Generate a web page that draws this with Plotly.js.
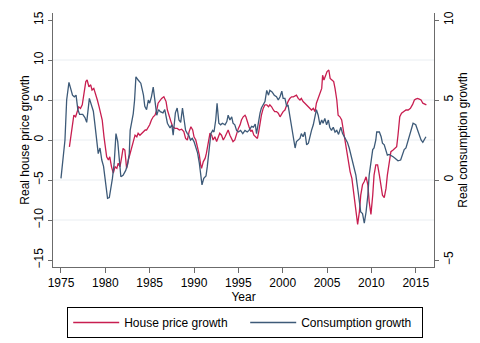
<!DOCTYPE html>
<html>
<head>
<meta charset="utf-8">
<script src="https://cdn.plot.ly/plotly-3.0.1.min.js"></script>
<style>html,body{margin:0;padding:0;background:#fff;}#chart{width:480px;height:343px;}</style>
</head>
<body>
<div id="chart"></div>
<script>
// House price growth (left axis)
var hpYears = [1975.95,1976.2,1976.45,1976.65,1976.85,1977.0,1977.2,1977.4,1977.6,1977.8,1977.95,1978.15,1978.35,1978.5,1978.7,1978.9,1979.1,1979.3,1979.5,1979.65,1979.85,1980.05,1980.15,1980.35,1980.5,1980.7,1980.9,1981.1,1981.3,1981.45,1981.65,1981.85,1982.0,1982.2,1982.4,1982.6,1982.8,1982.95,1983.15,1983.35,1983.55,1983.7,1983.9,1984.1,1984.3,1984.5,1984.65,1984.85,1985.0,1985.2,1985.4,1985.6,1985.8,1985.95,1986.15,1986.35,1986.6,1986.85,1987.0,1987.2,1987.4,1987.6,1987.85,1988.1,1988.35,1988.6,1988.85,1989.05,1989.25,1989.45,1989.65,1989.85,1990.0,1990.2,1990.4,1990.6,1990.75,1990.85,1991.05,1991.25,1991.4,1991.6,1991.8,1992.0,1992.15,1992.35,1992.55,1992.75,1992.9,1993.1,1993.3,1993.5,1993.7,1993.85,1994.05,1994.25,1994.4,1994.6,1994.8,1995.0,1995.2,1995.35,1995.55,1995.75,1995.85,1996.0,1996.2,1996.4,1996.55,1996.75,1997.0,1997.15,1997.3,1997.45,1997.6,1997.8,1998.0,1998.2,1998.4,1998.55,1998.75,1998.95,1999.1,1999.3,1999.5,1999.7,1999.9,2000.05,2000.25,2000.45,2000.6,2000.8,2001.0,2001.2,2001.4,2001.55,2001.75,2001.95,2002.1,2002.3,2002.5,2002.7,2002.9,2003.05,2003.25,2003.45,2003.65,2003.8,2004.0,2004.2,2004.4,2004.5,2004.65,2004.85,2005.0,2005.2,2005.35,2005.55,2005.75,2005.9,2006.1,2006.25,2006.45,2006.65,2006.8,2007.0,2007.2,2007.4,2007.6,2007.8,2007.95,2008.15,2008.35,2008.45,2008.65,2008.8,2009.0,2009.2,2009.4,2009.6,2009.75,2009.95,2010.15,2010.3,2010.5,2010.7,2010.9,2011.1,2011.25,2011.45,2011.65,2011.8,2012.0,2012.2,2012.45,2012.65,2012.85,2013.0,2013.2,2013.4,2013.6,2013.9,2014.15,2014.4,2014.65,2014.85,2015.0,2015.2,2015.4,2015.6,2015.8,2016.0,2016.2];
var hpGrowth = [-0.85,1.3,3.1,2.9,3.75,4.15,3.95,4.4,5.85,7.3,7.5,6.65,6.9,6.25,6.45,5.85,5.0,4.15,3.3,2.5,0.4,-1.25,-2.1,-2.5,-2.1,-3.35,-4.15,-3.35,-3.55,-2.9,-3.35,-2.1,-1.05,-1.25,-3.55,-2.5,-1.65,-1.25,-0.4,0.6,0.4,0.85,0.6,0.85,1.05,1.25,1.25,1.65,1.9,2.5,2.9,3.1,3.75,4.6,4.9,5.2,5.4,4.8,3.75,2.9,2.3,1.65,1.45,1.45,1.25,1.35,1.05,0.2,0.0,1.05,1.65,1.25,0.4,0.0,-0.85,-1.9,-3.1,-3.55,-2.7,-2.3,-1.65,-0.2,0.85,0.6,0.0,0.4,-0.2,0.4,0.85,0.6,0.0,0.4,1.05,1.25,0.6,0.2,-0.2,0.0,0.85,1.45,1.9,2.5,2.9,3.1,2.9,2.3,1.65,1.05,1.25,0.6,0.4,0.2,1.05,2.1,3.1,3.95,4.4,4.4,4.15,4.4,4.15,3.75,3.55,3.55,3.35,2.9,3.35,3.55,3.75,4.4,4.8,5.2,5.4,5.4,5.55,5.6,5.2,5.0,5.2,4.8,4.6,4.4,4.15,3.95,3.75,3.95,3.55,4.6,5.2,5.6,6.45,8.1,7.5,8.1,8.55,8.75,7.7,7.5,7.3,6.45,5.0,3.1,2.9,2.5,1.45,-0.2,-1.45,-2.7,-3.95,-4.8,-6.05,-8.1,-9.4,-10.55,-8.95,-6.9,-5.6,-5.2,-4.6,-5.6,-7.7,-9.3,-6.9,-4.4,-3.1,-3.1,-4.4,-6.05,-6.9,-7.2,-6.05,-4.4,-2.7,-1.45,-1.25,-1.05,-0.85,0.6,2.9,3.35,3.55,3.75,3.75,3.95,4.45,5.0,5.1,5.2,5.1,5.0,4.6,4.45,4.4];

// Consumption growth (right axis)
var consYears = [1975.0,1975.45,1975.64,1975.9,1976.3,1976.5,1976.7,1976.9,1977.1,1977.45,1977.7,1977.9,1978.2,1978.5,1978.65,1978.8,1979.0,1979.2,1979.4,1979.6,1979.8,1979.95,1980.15,1980.25,1980.45,1980.65,1980.8,1981.0,1981.2,1981.4,1981.55,1981.75,1982.0,1982.3,1982.5,1982.7,1982.8,1983.0,1983.15,1983.3,1983.45,1983.7,1984.0,1984.3,1984.45,1984.65,1984.85,1985.0,1985.2,1985.4,1985.6,1985.8,1986.0,1986.2,1986.5,1986.7,1987.0,1987.3,1987.5,1987.65,1987.9,1988.1,1988.3,1988.5,1988.7,1988.9,1989.05,1989.25,1989.4,1989.6,1989.8,1990.0,1990.2,1990.4,1990.6,1990.75,1990.9,1991.1,1991.35,1991.5,1991.7,1991.9,1992.1,1992.25,1992.45,1992.6,1992.8,1993.0,1993.2,1993.5,1993.7,1993.85,1994.05,1994.25,1994.4,1994.6,1994.8,1995.0,1995.25,1995.5,1995.75,1996.0,1996.2,1996.5,1996.7,1996.9,1997.05,1997.25,1997.45,1997.6,1997.8,1998.0,1998.2,1998.4,1998.55,1998.8,1999.05,1999.3,1999.5,1999.7,1999.9,2000.05,2000.25,2000.45,2000.6,2000.8,2001.0,2001.2,2001.4,2001.55,2001.75,2001.95,2002.1,2002.3,2002.5,2002.7,2002.9,2003.05,2003.25,2003.45,2003.65,2003.8,2004.0,2004.2,2004.4,2004.55,2004.75,2004.95,2005.15,2005.3,2005.5,2005.7,2005.9,2006.1,2006.3,2006.55,2006.75,2006.95,2007.1,2007.3,2007.5,2007.7,2007.9,2008.05,2008.25,2008.45,2008.65,2008.8,2009.0,2009.2,2009.4,2009.6,2009.75,2009.95,2010.15,2010.3,2010.5,2010.6,2010.9,2011.1,2011.25,2011.45,2011.65,2011.8,2012.0,2012.2,2012.45,2012.7,2013.0,2013.3,2013.5,2013.7,2013.9,2014.1,2014.25,2014.45,2014.7,2015.0,2015.2,2015.4,2015.6,2015.8,2016.0,2016.15];
var consGrowth = [0.1,2.5,5.0,6.1,5.3,5.2,5.3,4.4,4.1,4.1,3.9,3.6,5.1,4.6,4.3,3.6,2.7,1.65,2.0,1.25,0.85,0.2,-0.6,-1.15,-1.1,-0.5,0.1,1.05,2.9,2.4,1.45,0.2,0.3,0.6,0.95,1.65,3.1,3.75,4.15,5.0,6.45,6.25,6.05,5.3,4.6,4.4,5.0,4.8,5.2,5.8,5.0,4.05,4.4,4.27,4.2,4.4,3.55,3.25,3.45,2.8,4.2,4.5,3.75,3.6,4.5,3.45,3.1,2.9,2.8,2.5,2.6,2.4,2.1,1.7,1.05,0.2,-0.3,0.1,0.25,0.85,1.9,2.9,3.1,3.0,3.75,4.8,3.55,3.45,3.55,3.45,3.65,4.05,3.75,3.95,3.55,3.45,3.1,3.0,3.1,2.9,3.1,3.0,3.1,3.35,3.3,3.5,2.9,3.6,4.2,4.5,4.7,4.9,5.6,5.3,5.6,5.5,5.3,5.2,5.0,5.2,5.55,5.1,5.1,4.6,4.7,4.05,3.45,2.8,2.0,2.4,2.5,2.6,2.9,2.7,3.0,2.2,2.3,2.7,3.1,3.45,3.95,4.4,4.05,3.45,3.75,3.55,3.85,3.45,3.75,3.3,3.1,3.3,3.0,3.1,2.85,3.3,2.9,2.7,2.5,2.35,2.0,1.55,1.15,0.75,0.3,-0.5,-1.35,-2.0,-2.1,-2.7,-2.0,-0.95,0.3,1.15,1.9,2.0,2.5,3.0,3.0,2.7,2.3,2.2,1.75,1.55,1.6,1.55,1.45,1.35,1.2,1.25,1.55,1.9,2.0,2.4,2.8,3.2,3.55,3.45,3.1,2.8,2.5,2.35,2.6,2.7];

var xTicks = [1975,1980,1985,1990,1995,2000,2005,2010,2015];
var leftTicks = [-15,-10,-5,0,5,10,15];
var rightTicks = [-5,0,5,10];
var gridVals = [-10,-5,0,5,10];

var FONT = "Liberation Sans, Arial, Helvetica, sans-serif";
var AXC = "#6b6b6b";

var traces = [
  {x: hpYears, y: hpGrowth, type: "scatter", mode: "lines", name: "House price growth",
   line: {color: "#c81e50", width: 1.3}, yaxis: "y"},
  {x: consYears, y: consGrowth, type: "scatter", mode: "lines", name: "Consumption growth",
   line: {color: "#3d5a78", width: 1.3}, yaxis: "y2"}
];

var shapes = gridVals.map(function(v){
  return {type: "line", xref: "paper", x0: 0, x1: 1, yref: "y", y0: v, y1: v,
          line: {color: "#e9eef2", width: 1}, layer: "below"};
});

var layout = {
  width: 480, height: 343,
  margin: {l: 53, r: 46, t: 13, b: 76, autoexpand: false},
  paper_bgcolor: "#ffffff", plot_bgcolor: "#ffffff",
  font: {family: FONT, size: 12, color: "#000"},
  showlegend: true,
  xaxis: {
    range: [1974.1, 2017.06], tickmode: "array", tickvals: xTicks,
    showgrid: false, zeroline: false, showline: true, linecolor: AXC, linewidth: 1,
    ticks: "outside", ticklen: 5, tickcolor: AXC, tickfont: {size: 12},
    title: {text: "Year", font: {size: 12}, standoff: 2}
  },
  yaxis: {
    range: [-15.875, 15.875], tickmode: "array", tickvals: leftTicks,
    showgrid: false, zeroline: false, showline: true, linecolor: AXC, linewidth: 1,
    ticks: "outside", ticklen: 4, tickcolor: AXC, tickangle: -90, tickfont: {size: 12},
    title: {text: "Real house price growth", font: {size: 12}, standoff: 0}
  },
  yaxis2: {
    range: [-5.4375, 10.4375], tickmode: "array", tickvals: rightTicks,
    overlaying: "y", side: "right",
    showgrid: false, zeroline: false, showline: true, linecolor: AXC, linewidth: 1,
    ticks: "outside", ticklen: 4, tickcolor: AXC, tickangle: -90, tickfont: {size: 12},
    title: {text: "Real consumption growth", font: {size: 12}, standoff: 0}
  },
  legend: {
    orientation: "h", xref: "container", yref: "container",
    x: 0.14, xanchor: "left", y: 0.105, yanchor: "top",
    bordercolor: "#000", borderwidth: 1, bgcolor: "#fff",
    font: {size: 12}, entrywidth: 116, entrywidthmode: "pixels",
    itemwidth: 46, tracegroupgap: 0
  },
  shapes: shapes
};

Plotly.newPlot("chart", traces, layout, {displayModeBar: false, staticPlot: true});
</script>
</body>
</html>
